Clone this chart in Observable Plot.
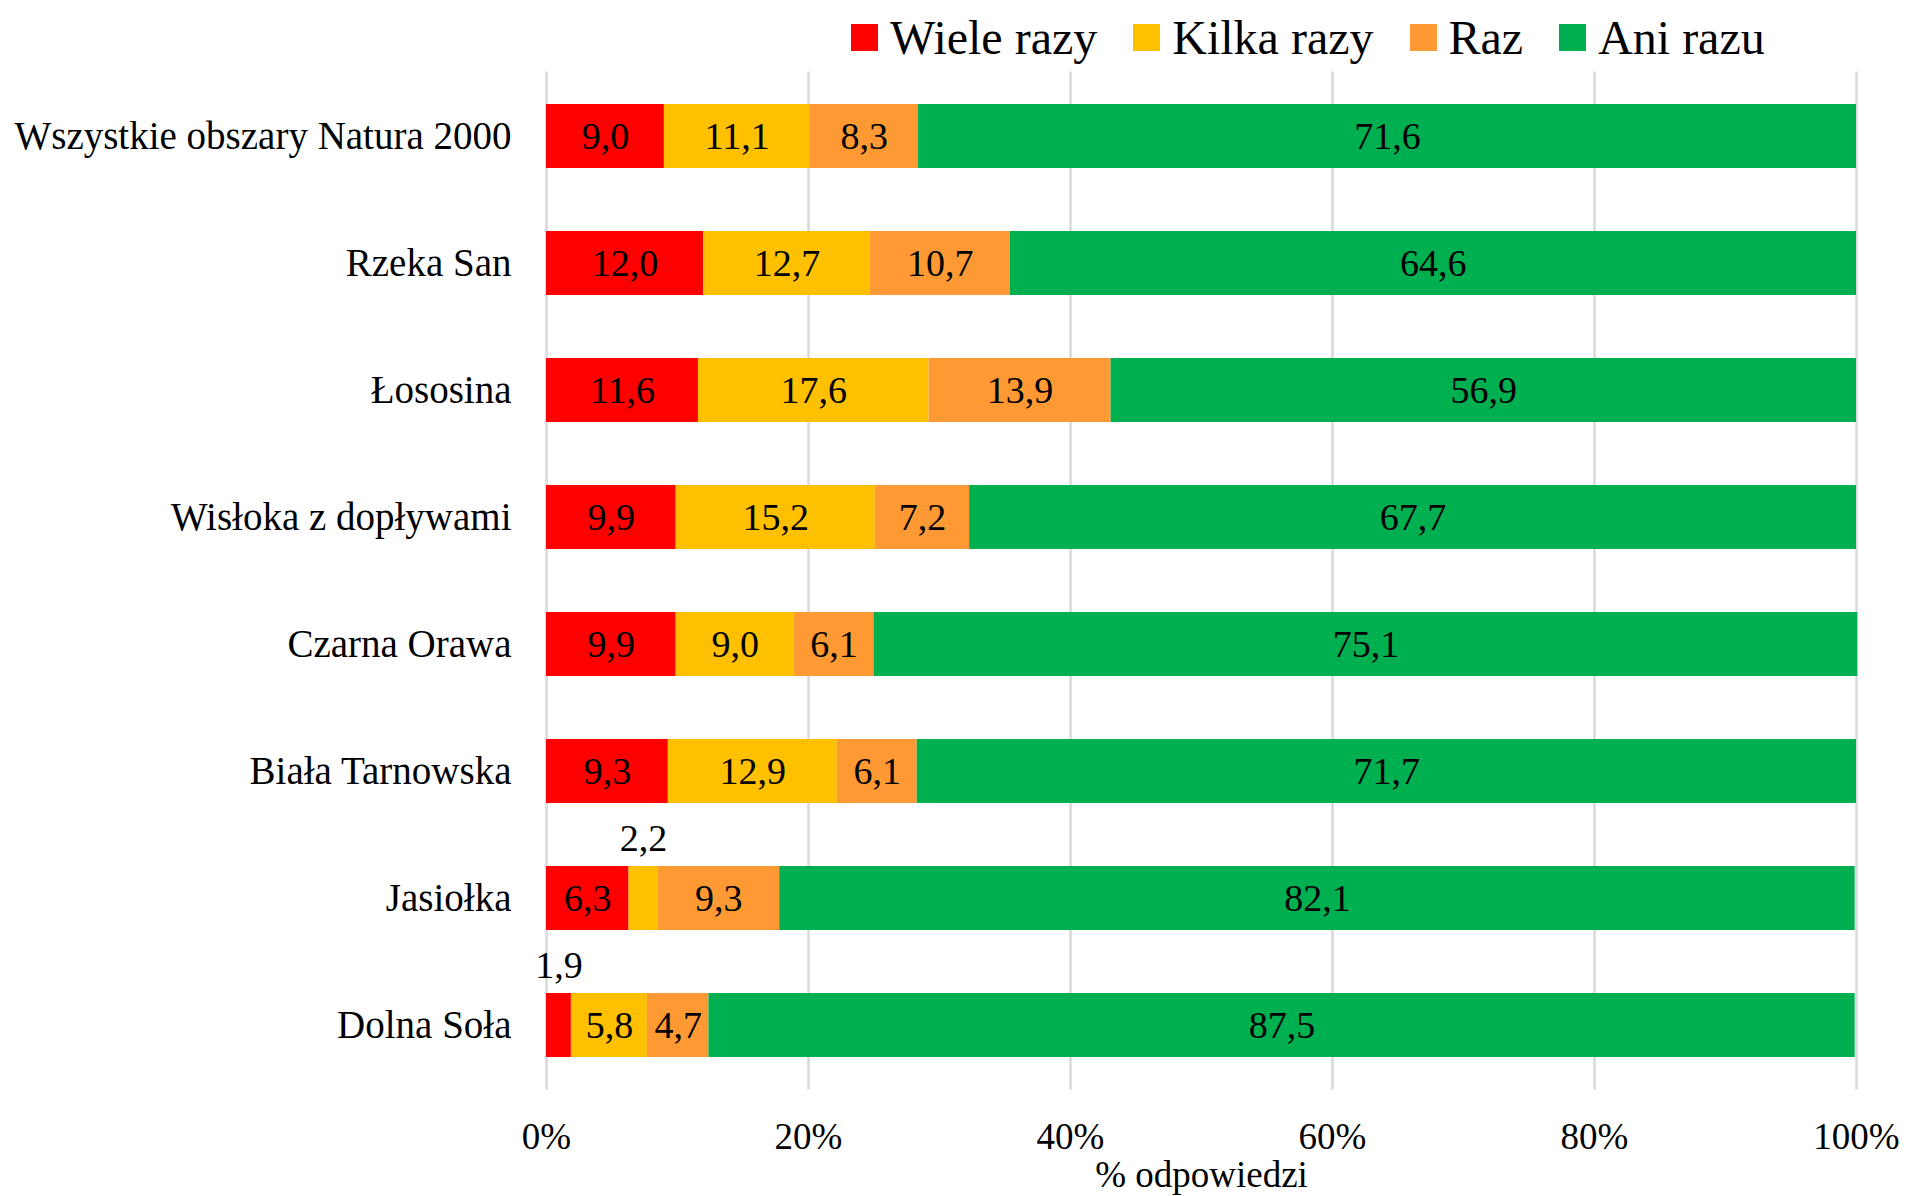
<!DOCTYPE html>
<html><head><meta charset="utf-8">
<script src="https://cdn.jsdelivr.net/npm/d3@7"></script>
<script src="https://cdn.jsdelivr.net/npm/@observablehq/plot@0.6"></script>
<style>
body{margin:0;background:#fff;font-family:"Liberation Serif",serif;}
#legend{height:70px;display:flex;align-items:center;padding-left:851px;padding-top:4px;gap:36px;box-sizing:border-box;font-size:48px;color:#000;}
.item{display:flex;align-items:center;gap:12px;}
.sw{width:27px;height:27px;}
</style></head><body>
<div id="legend"></div>
<div id="chart"></div>
<script>
const regions = ["Wszystkie obszary Natura 2000","Rzeka San","Łososina","Wisłoka z dopływami","Czarna Orawa","Biała Tarnowska","Jasiołka","Dolna Soła"];
const categories = ["Wiele razy","Kilka razy","Raz","Ani razu"];
const colors = ["#ff0000","#ffc000","#ff9933","#00b050"];
const wiele = [9.0,12.0,11.6,9.9,9.9,9.3,6.3,1.9];
const kilka = [11.1,12.7,17.6,15.2,9.0,12.9,2.2,5.8];
const raz = [8.3,10.7,13.9,7.2,6.1,6.1,9.3,4.7];
const aniRazu = [71.6,64.6,56.9,67.7,75.1,71.7,82.1,87.5];
const ticks = [0,20,40,60,80,100];
const axisTitle = "% odpowiedzi";

const series = [wiele, kilka, raz, aniRazu];
const data = [];
regions.forEach((r, i) => series.forEach((s, j) => data.push({region: r, cat: categories[j], value: s[i]})));
const fmt = v => v.toFixed(1).replace(".", ",");

const legend = document.getElementById("legend");
categories.forEach((c, j) => {
  const it = document.createElement("div"); it.className = "item";
  const sw = document.createElement("div"); sw.className = "sw"; sw.style.background = colors[j];
  const t = document.createElement("span"); t.textContent = c;
  it.append(sw, t); legend.append(it);
});

const chart = Plot.plot({
  width: 1909,
  height: 1126,
  marginLeft: 546,
  marginRight: 53,
  marginTop: 1.4,
  marginBottom: 106.4,
  style: {fontFamily: "Liberation Serif", background: "#fff", color: "#000"},
  x: {domain: [0, 100]},
  y: {domain: regions, paddingInner: 0.5, paddingOuter: 0.25},
  color: {domain: categories, range: colors},
  marks: [
    Plot.gridX(ticks, {stroke: "#d9d9d9", strokeWidth: 2.5, strokeOpacity: 1}),
    Plot.barX(data, Plot.stackX({x: "value", y: "region", z: "cat", fill: "cat"})),
    Plot.text(data, Plot.stackX({x: "value", y: "region", z: "cat", text: d => d.value >= 3 ? fmt(d.value) : null, fontSize: 38, fill: "#000"})),
    Plot.text(data, Plot.stackX({x: "value", y: "region", z: "cat", text: d => d.value < 3 ? fmt(d.value) : null, fontSize: 38, fill: "#000", dy: -60})),
    Plot.axisY({tickSize: 0, tickPadding: 35, fontSize: 39, label: null}),
    Plot.axisX({ticks: ticks, tickSize: 0, tickPadding: 33, fontSize: 37, tickFormat: d => d + "%", label: axisTitle, labelAnchor: "center", labelOffset: 97, labelArrow: "none"})
  ]
});
document.getElementById("chart").append(chart);
</script>
</body></html>
